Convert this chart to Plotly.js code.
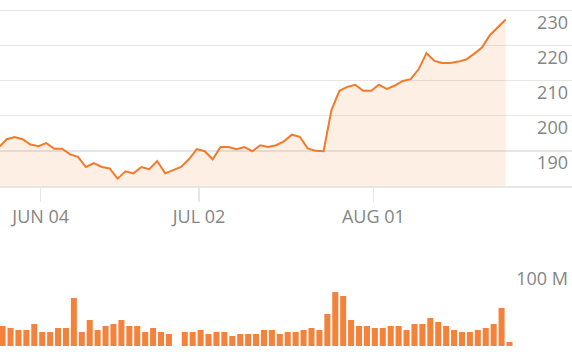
<!DOCTYPE html>
<html>
<head>
<meta charset="utf-8">
<script src="https://cdn.plot.ly/plotly-3.0.1.min.js"></script>
<style>
  html, body { margin: 0; padding: 0; background: #ffffff; }
  #chart { width: 572px; height: 356px; }
</style>
</head>
<body>
<div id="chart"></div>
<script>
// Trading days (weekdays) shown on the chart
const dates = [
  "2024-05-28","2024-05-29","2024-05-30","2024-05-31",
  "2024-06-03","2024-06-04","2024-06-05","2024-06-06","2024-06-07",
  "2024-06-10","2024-06-11","2024-06-12","2024-06-13","2024-06-14",
  "2024-06-17","2024-06-18","2024-06-19","2024-06-20","2024-06-21",
  "2024-06-24","2024-06-25","2024-06-26","2024-06-27","2024-06-28",
  "2024-07-01","2024-07-02","2024-07-03","2024-07-04","2024-07-05",
  "2024-07-08","2024-07-09","2024-07-10","2024-07-11","2024-07-12",
  "2024-07-15","2024-07-16","2024-07-17","2024-07-18","2024-07-19",
  "2024-07-22","2024-07-23","2024-07-24","2024-07-25","2024-07-26",
  "2024-07-29","2024-07-30","2024-07-31","2024-08-01","2024-08-02",
  "2024-08-05","2024-08-06","2024-08-07","2024-08-08","2024-08-09",
  "2024-08-12","2024-08-13","2024-08-14","2024-08-15","2024-08-16",
  "2024-08-19","2024-08-20","2024-08-21","2024-08-22","2024-08-23",
  "2024-08-26"
];

// Closing prices
const closes = [
  191.0, 193.3, 193.9, 193.3, 191.8, 191.3, 192.2, 190.6, 190.6, 189.0,
  188.3, 185.4, 186.5, 185.4, 185.0, 182.1, 184.2, 183.6, 185.4, 184.8,
  187.1, 183.6, 184.5, 185.4, 187.6, 190.5, 189.9, 187.6, 191.1, 191.1,
  190.5, 191.1, 189.9, 191.6, 191.1, 191.6, 192.7, 194.6, 194.0, 190.7,
  190.0, 189.9, 201.6, 207.1, 208.2, 208.8, 207.1, 207.1, 208.8, 207.6,
  208.6, 209.9, 210.4, 213.2, 217.8, 215.6, 215.0, 215.0, 215.4, 216.0,
  217.6, 219.4, 222.9, 225.2, 227.4
];

// Volume, millions of shares (null = no data)
const volumesM = [
  25.2, 22.6, 20.1, 20.1, 27.7, 17.6, 17.6, 22.6, 22.6, 60.4,
  17.6, 32.7, 20.1, 25.2, 27.7, 32.7, 25.2, 25.2, 17.6, 22.6,
  17.6, 15.1, null, 17.6, 17.6, 20.1, 15.1, 17.6, 17.6, 12.6,
  15.1, 15.1, 15.1, 20.1, 20.1, 15.1, 17.6, 17.6, 20.1, 22.6,
  20.1, 40.3, 67.9, 62.9, 32.7, 25.2, 25.2, 22.6, 22.6, 25.2,
  25.2, 20.1, 27.7, 27.7, 35.2, 30.2, 25.2, 20.1, 17.6, 17.6,
  20.1, 22.6, 27.7, 47.8, 5.0
];

// Axis ticks
const xTickDates = ["2024-06-04", "2024-07-02", "2024-08-01"];
const xTickLabels = ["JUN 04", "JUL 02", "AUG 01"];
const priceTicks = [190, 200, 210, 220, 230];
const volumeTicksM = [100];
const volumeTickLabels = ["100 M"];

const ORANGE = "#f47a2a";
const BAR = "#f5823a";
const GRID = "#e6e6e6";
const LABEL = "#858585";
const FONT = "Open Sans, Lato, sans-serif";
const FSIZE = 18;

const priceTrace = {
  type: "scatter",
  mode: "lines",
  x: dates,
  y: closes,
  xaxis: "x",
  yaxis: "y",
  line: { color: ORANGE, width: 2 },
  fill: "tozeroy",
  fillcolor: "rgba(245,130,57,0.13)",
  hoverinfo: "skip"
};

const volumeTrace = {
  type: "bar",
  x: dates,
  y: volumesM,
  xaxis: "x",
  yaxis: "y2",
  marker: { color: BAR, line: { width: 0 } },
  width: 0.76,
  offset: 0.1,
  hoverinfo: "skip"
};

const layout = {
  width: 572,
  height: 356,
  margin: { l: 0, r: 0, t: 0, b: 0, pad: 0 },
  paper_bgcolor: "#ffffff",
  plot_bgcolor: "rgba(0,0,0,0)",
  showlegend: false,
  font: { family: FONT, color: LABEL, size: FSIZE },
  xaxis: {
    type: "category",
    anchor: "y",
    range: [0.152, 72.37],
    showgrid: false,
    zeroline: false,
    showline: true,
    linecolor: GRID,
    linewidth: 1.5,
    ticks: "outside",
    ticklen: 14,
    tickwidth: 1.5,
    tickcolor: GRID,
    tickmode: "array",
    tickvals: xTickDates.map(d => dates.indexOf(d) + 0.29),
    ticktext: xTickLabels,
    tickfont: { family: FONT, size: FSIZE, color: LABEL },
    fixedrange: true
  },
  yaxis: {
    domain: [1 - 186 / 356, 1],
    range: [180, 232.93],
    side: "right",
    anchor: "x",
    showgrid: true,
    gridcolor: GRID,
    gridwidth: 1.5,
    zeroline: false,
    showline: false,
    ticks: "",
    tickmode: "array",
    tickvals: priceTicks,
    ticktext: priceTicks.map(String),
    ticklabelposition: "inside",
    ticklabelshift: 12,
    ticklabelstandoff: 1,
    tickfont: { family: FONT, size: FSIZE, color: LABEL },
    fixedrange: true
  },
  yaxis2: {
    domain: [1 - 346 / 356, 1 - 262.5 / 356],
    range: [0, 105],
    side: "right",
    anchor: "x",
    showgrid: false,
    zeroline: false,
    showline: false,
    ticks: "",
    tickmode: "array",
    tickvals: volumeTicksM,
    ticktext: volumeTickLabels,
    ticklabelposition: "inside",
    ticklabelshift: 12,
    ticklabelstandoff: 1,
    tickfont: { family: FONT, size: FSIZE, color: LABEL },
    fixedrange: true
  }
};

Plotly.newPlot("chart", [priceTrace, volumeTrace], layout, { staticPlot: true, displayModeBar: false });
</script>
</body>
</html>
